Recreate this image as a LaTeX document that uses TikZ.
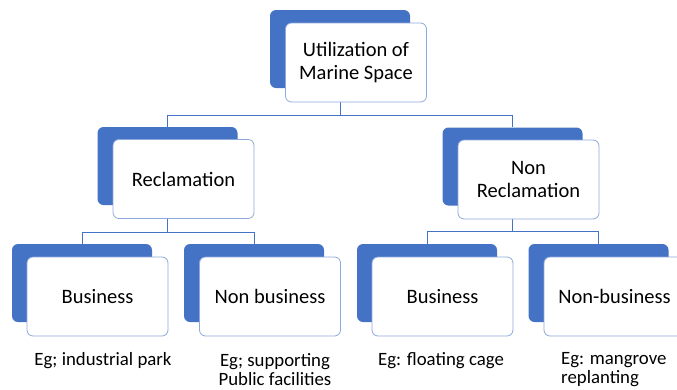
\documentclass[tikz,border=0pt]{standalone}
\usepackage{fontspec}
\setmainfont{Carlito}
\definecolor{shadeblue}{HTML}{4472C4}
\definecolor{rimblue}{HTML}{8EA9DB}
\tikzset{
  backbox/.style={fill=shadeblue,rounded corners=6pt,minimum width=140pt,minimum height=78pt,inner sep=0pt},
  frontbox/.style={fill=white,draw=rimblue,line width=0.8pt,rounded corners=6pt,minimum width=141pt,minimum height=79pt,
    inner sep=0pt,align=center,font=\fontsize{20.5}{22.5}\selectfont},
  branch/.style={draw=shadeblue,line width=0.8pt},
  example/.style={inner sep=0pt,font=\fontsize{18.8}{19}\selectfont}
}
\begin{document}
\begin{tikzpicture}[x=1pt,y=-1pt]
\useasboundingbox (0,0) rectangle (677,389);
% the shaded backs
\node[backbox] (util-back) at (340,49) {};
\node[backbox] (recl-back) at (167.5,166) {};
\node[backbox] (nonrecl-back) at (512.5,166.5) {};
\foreach \x/\n in {82/busa,254/nbusa,427/busb,598.5/nbusb} \node[backbox] (\n-back) at (\x,283) {};
% the tree lines
\draw[branch] (util-back.south) -- ++(0,27) -| (recl-back.north);
\draw[branch] (util-back.south) -- ++(0,27) -| (nonrecl-back.north);
\draw[branch] (recl-back.south) -- ++(0,27) -| (busa-back.north);
\draw[branch] (recl-back.south) -- ++(0,27) -| (nbusa-back.north);
\draw[branch] (nonrecl-back.south) -- ++(0,26) -| (busb-back.north);
\draw[branch] (nonrecl-back.south) -- ++(0,26) -| (nbusb-back.north);
% the white fronts
\node[frontbox] (util-front) at (356,62.5) {Utilization of\\Marine Space};
\node[frontbox] (recl-front) at (183.5,179) {Reclamation};
\node[frontbox] (nonrecl-front) at (528.5,179.5) {Non\\Reclamation};
\node[frontbox] (busa-front) at (97.5,296.5) {Business};
\node[frontbox] (nbusa-front) at (270,296.5) {Non business};
\node[frontbox] (busb-front) at (442.5,296.5) {Business};
\node[frontbox] (nbusb-front) at (614.5,296.5) {Non-business};
% the examples below
\node[example] (busa-eg) at (103,361) {Eg; industrial park};
\node[example,align=center] (nbusa-eg) at (275,369.5) {Eg; supporting\\Public facilities};
\node[example] (busb-eg) at (441,361) {Eg: floating cage};
\node[example,align=left,anchor=west] (nbusb-eg) at (561,369.5) {Eg: mangrove\\replanting};
\end{tikzpicture}
\end{document}
